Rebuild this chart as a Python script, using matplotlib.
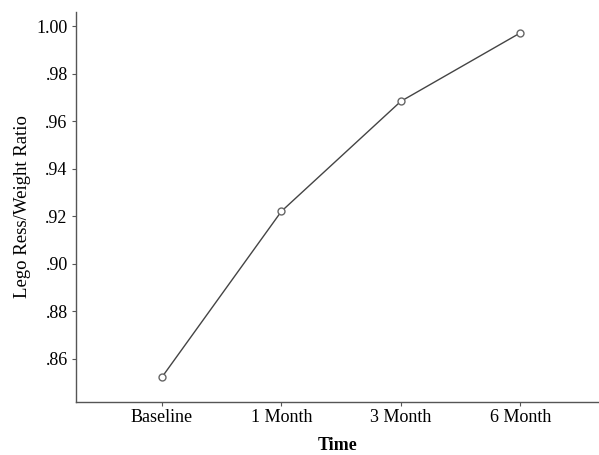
import matplotlib
matplotlib.use("Agg")
import matplotlib.pyplot as plt
import numpy as np

# values
time_labels = ["Baseline", "1 Month", "3 Month", "6 Month"]
ratio = [0.8522, 0.9220, 0.9683, 0.9971]
y_ticks = [0.86, 0.88, 0.90, 0.92, 0.94, 0.96, 0.98, 1.00]
y_tick_labels = [".86", ".88", ".90", ".92", ".94", ".96", ".98", "1.00"]

plt.rcParams["font.family"] = ["Liberation Serif", "DejaVu Serif"]

fig = plt.figure(figsize=(5.99, 4.55), dpi=100)
ax = fig.add_axes([0.127, 0.1165, 0.873, 0.857])

x = np.arange(len(time_labels))
ax.plot(x, ratio, color="#444444", linewidth=1.0, marker="o", markersize=5,
        markerfacecolor="white", markeredgecolor="#666666", markeredgewidth=1.0)

ax.set_xlim(-0.72, 3.66)
ax.set_ylim(0.8417, 1.0059)
ax.set_xticks(x)
ax.set_xticklabels(time_labels, fontsize=13)
ax.set_yticks(y_ticks)
ax.set_yticklabels(y_tick_labels, fontsize=13)
ax.tick_params(length=3, width=0.8, color="#555555")
ax.tick_params(axis="y", pad=3)
ax.tick_params(axis="x", pad=2)

for spine in ("top", "right"):
    ax.spines[spine].set_visible(False)
for spine in ("left", "bottom"):
    ax.spines[spine].set_color("#555555")
    ax.spines[spine].set_linewidth(1.0)

ax.set_xlabel("Time", fontsize=13, fontweight="bold", labelpad=8)
ax.set_ylabel("Lego Ress/Weight Ratio", fontsize=13.5, labelpad=4)

fig.savefig("out.png", dpi=100)
